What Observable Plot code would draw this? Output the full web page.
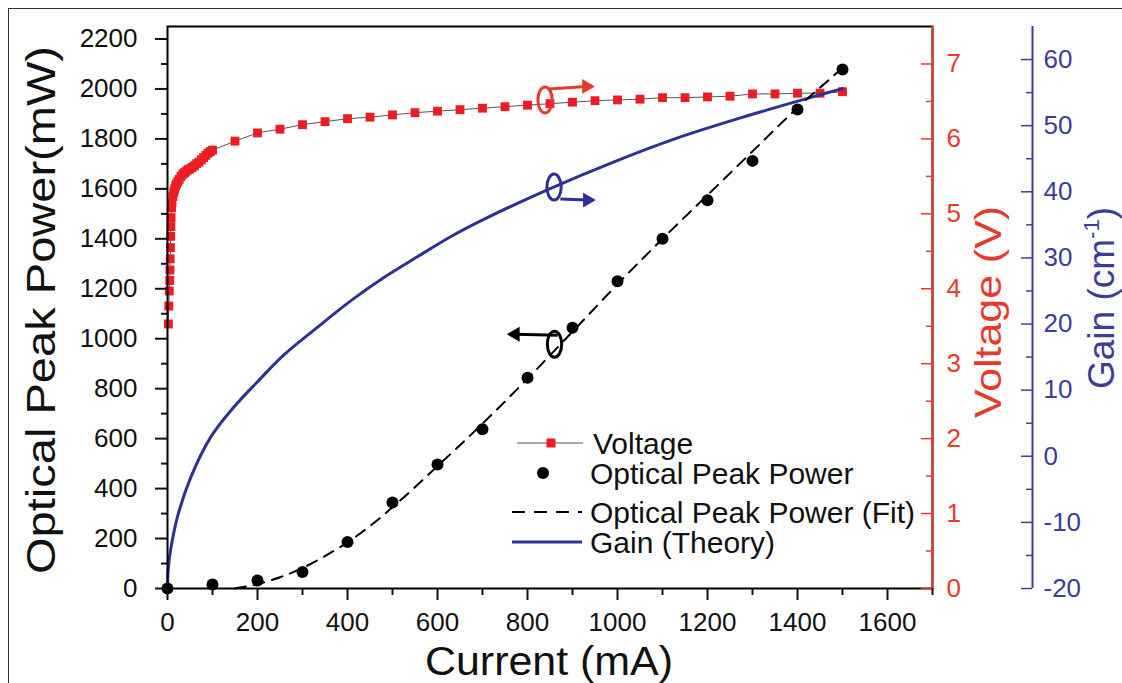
<!DOCTYPE html>
<html><head><meta charset="utf-8">
<script src="https://cdn.jsdelivr.net/npm/d3@7"></script>
<script src="https://cdn.jsdelivr.net/npm/@observablehq/plot@0.6"></script>
<style>
body{margin:0;background:#fff;overflow:hidden;font-family:"Liberation Sans",Arial,sans-serif;}
#wrap{position:relative;width:1122px;height:683px;overflow:hidden;}
#border{position:absolute;left:8px;top:8px;width:1300px;height:900px;border:1.5px solid #333;pointer-events:none;}
</style></head><body><div id="wrap"></div>
<script>
// ---- data ----
const voltageCurrent = [2,3,4,5,5.5,6,6.5,7,7.5,8,9,10,12,14,16,18,20,23,26,30,34,38,42,46,50,55,60,65,70,75,80,85,90,95,100,
  150,200,250,300,350,400,450,500,550,600,650,700,750,800,850,900,950,1000,1050,1100,1150,1200,1250,1300,1350,1400,1450,1500];
const voltage = [3.53,3.77,3.97,4.11,4.25,4.40,4.55,4.70,4.83,4.95,5.08,5.15,5.23,5.29,5.33,5.37,5.40,5.43,5.46,5.50,5.53,5.55,5.57,5.59,5.60,5.62,5.64,5.67,5.69,5.72,5.75,5.78,5.81,5.83,5.85,
  5.97,6.08,6.13,6.19,6.23,6.27,6.29,6.32,6.35,6.37,6.39,6.41,6.43,6.45,6.47,6.49,6.51,6.52,6.53,6.55,6.55,6.56,6.57,6.60,6.60,6.61,6.61,6.63];

const powerCurrent = [0,100,200,300,400,500,600,700,800,900,1000,1100,1200,1300,1400,1500];
const power = [0,16,32,66,186,344,496,638,844,1044,1230,1400,1554,1712,1918,2078];

const fitCurrent = [150,200,250,300,350,400,450,500,600,700,800,900,1000,1100,1200,1300,1400,1500,1512];
const fitPower = [0,18,45,82,130,185,250,325,490,660,840,1028,1218,1400,1575,1750,1925,2085,2105];

const gainCurrent = [0,1,3,7,22,51,96,147,199,258,333,407,480,556,629,696,844,991,1140,1289,1436,1500];
const gain = [-20,-17.7,-16.1,-14.1,-9.2,-3.3,2.9,7.4,11.2,15.3,19.5,23.5,27.0,30.2,33.2,35.6,40.3,44.5,48.3,51.5,54.4,55.6];

const xMajor = [0,200,400,600,800,1000,1200,1400,1600];
const xMinor = [100,300,500,700,900,1100,1300,1500,1700];
const powerMajor = [0,200,400,600,800,1000,1200,1400,1600,1800,2000,2200];
const powerMinor = [100,300,500,700,900,1100,1300,1500,1700,1900,2100];
const voltMajor = [0,1,2,3,4,5,6,7];
const voltMinor = [0.5,1.5,2.5,3.5,4.5,5.5,6.5];
const gainMajor = [-20,-10,0,10,20,30,40,50,60];
const gainMinor = [-15,-5,5,15,25,35,45,55];

const legendLabels = ["Voltage","Optical Peak Power","Optical Peak Power (Fit)","Gain (Theory)"];

// annotation markers (current, power-axis units)
const annotations = [
  {cx:839, cy:1956, x1:847, y1:2000, x2:931, y2:2010, dir:90, color:"red"},
  {cx:859, cy:1607, x1:873, y1:1559, x2:933, y2:1555, dir:90, color:"blue"},
  {cx:860, cy:978,  x1:867, y1:1014, x2:773, y2:1018, dir:-90, color:"black"}
];

// ---- scales & styling ----
const W = 1122, H = 683;
const mL = 167, mR = 190, mT = 26, mB = 95;
const innerW = W - mL - mR;
const xMax = 1700, yMax = 2250, vMax = 7.5, gMin = -20, gMax = 65;
const vk = yMax / vMax;
const gk = yMax / (gMax - gMin);
const RED = "#ed1c24", RED_AX = "#e8392d", BLUE = "#2e3192", BLUE_AX = "#3d3d98";
const colorOf = {red: RED_AX, blue: BLUE, black: "#000"};

const vData = voltageCurrent.map((c,i)=>({c, y: voltage[i]*vk}));
const pData = powerCurrent.map((c,i)=>({c, y: power[i]}));
const fData = fitCurrent.map((c,i)=>({c, y: fitPower[i]}));
const gData = gainCurrent.map((c,i)=>({c, y: (gain[i]-gMin)*gk}));
const ann = annotations.map(a=>({...a, col: colorOf[a.color]}));

const ellipse = {draw(ctx, size){
  const ry = Math.sqrt(size/Math.PI), rx = ry*0.55, k = 0.5523;
  ctx.moveTo(rx,0);
  ctx.bezierCurveTo(rx,k*ry,k*rx,ry,0,ry);
  ctx.bezierCurveTo(-k*rx,ry,-rx,k*ry,-rx,0);
  ctx.bezierCurveTo(-rx,-k*ry,-k*rx,-ry,0,-ry);
  ctx.bezierCurveTo(k*rx,-ry,rx,-k*ry,rx,0);
  ctx.closePath();
}};

const FS = 26;
const plot = Plot.plot({
  width: W, height: H,
  marginLeft: mL, marginRight: mR, marginTop: mT, marginBottom: mB,
  x: {domain: [0, xMax]},
  y: {domain: [0, yMax]},
  style: {fontFamily: "'Liberation Sans', Arial, sans-serif", background: "transparent", overflow: "visible", color: "#111"},
  marks: [
    // data
    Plot.line(vData, {x: "c", y: "y", stroke: "#555", strokeWidth: 1}),
    Plot.dot(vData, {x: "c", y: "y", symbol: "square", r: 5, fill: RED}),
    Plot.line(gData, {x: "c", y: "y", stroke: BLUE, strokeWidth: 3, curve: "catmull-rom"}),
    Plot.line(fData, {x: "c", y: "y", stroke: "#000", strokeWidth: 2, strokeDasharray: "11,8", curve: "monotone-x"}),
    Plot.dot(pData, {x: "c", y: "y", r: 6, fill: "#000"}),
    // frame & axes
    Plot.frame({stroke: "#000", strokeWidth: 2}),
    Plot.axisX({ticks: xMajor, tickSize: 12, tickPadding: 12, fontSize: FS, strokeWidth: 2, label: null, tickFormat: d => String(d)}),
    Plot.axisX({ticks: xMinor, tickSize: 7, tickFormat: () => "", strokeWidth: 2, label: null}),
    Plot.axisY({ticks: powerMajor, tickSize: 12, tickPadding: 18, fontSize: FS, strokeWidth: 2, label: null, tickFormat: d => String(d)}),
    Plot.axisY({ticks: powerMinor, tickSize: 6, tickFormat: () => "", strokeWidth: 2, label: null}),
    // voltage axis
    Plot.ruleX([xMax], {stroke: RED_AX, strokeWidth: 2}),
    Plot.axisY({anchor: "left", dx: innerW, ticks: voltMajor.map(v => v*vk), tickSize: 11, tickFormat: () => "", stroke: RED_AX, strokeWidth: 1.5, label: null}),
    Plot.axisY({anchor: "left", dx: innerW, ticks: voltMinor.map(v => v*vk), tickSize: 6, tickFormat: () => "", stroke: RED_AX, strokeWidth: 1.5, label: null}),
    Plot.axisY({anchor: "right", ticks: voltMajor.map(v => v*vk), tickSize: 0, tickPadding: 14, fontSize: FS, fill: RED_AX, label: null, tickFormat: d => String(Math.round(d/vk))}),
    // gain axis
    Plot.ruleX([xMax], {dx: 100, stroke: BLUE_AX, strokeWidth: 2}),
    Plot.axisY({anchor: "left", dx: innerW + 100, ticks: gainMajor.map(g => (g-gMin)*gk), tickSize: 11, tickFormat: () => "", stroke: BLUE_AX, strokeWidth: 1.5, label: null}),
    Plot.axisY({anchor: "left", dx: innerW + 100, ticks: gainMinor.map(g => (g-gMin)*gk), tickSize: 6, tickFormat: () => "", stroke: BLUE_AX, strokeWidth: 1.5, label: null}),
    Plot.axisY({anchor: "right", dx: 100, ticks: gainMajor.map(g => (g-gMin)*gk), tickSize: 0, tickPadding: 11, fontSize: FS, fill: BLUE_AX, label: null, tickFormat: d => String(Math.round(d/gk + gMin))}),
    // annotations
    Plot.dot(ann, {x: "cx", y: "cy", symbol: ellipse, r: 13, fill: "none", stroke: "col", strokeWidth: 3}),
    Plot.link(ann, {x1: "x1", y1: "y1", x2: "x2", y2: "y2", stroke: "col", strokeWidth: 3}),
    Plot.dot(ann, {x: "x2", y: "y2", symbol: "triangle", r: 5.5, fill: "col", rotate: "dir"})
  ]
});

document.getElementById("wrap").appendChild(plot);
const border = document.createElement("div"); border.id = "border";
document.getElementById("wrap").appendChild(border);

// ---- titles & legend ----
const svg = d3.select(plot);
const ff = "'Liberation Sans', Arial, sans-serif";
function title(txt, x, y, size, len, color, rot) {
  const t = svg.append("text").attr("font-family", ff).attr("font-size", size).attr("fill", color)
    .attr("text-anchor", "middle").attr("transform", `translate(${x},${y})` + (rot ? ` rotate(${rot})` : ""));
  if (len) t.attr("textLength", len).attr("lengthAdjust", "spacingAndGlyphs");
  t.text(txt);
  return t;
}
title("Optical Peak Power(mW)", 55, 310, 40, 528, "#111", -90);
title("Current (mA)", 549, 675, 40, 248, "#111", 0);
title("Voltage (V)", 1001, 312, 36, 212, RED_AX, -90);
const gt = svg.append("text").attr("font-family", ff).attr("font-size", 37).attr("fill", BLUE_AX)
  .attr("text-anchor", "middle").attr("transform", "translate(1114,298) rotate(-90)");
gt.append("tspan").text("Gain (cm");
gt.append("tspan").attr("font-size", 22).attr("dy", -15).text("-1");
gt.append("tspan").attr("dy", 15).text(")");

const lg = svg.append("g").attr("font-family", ff).attr("font-size", 30).attr("fill", "#111").attr("text-anchor", "start");
const rows = [443, 473, 512, 542];
// Voltage
lg.append("line").attr("x1", 517).attr("x2", 583).attr("y1", rows[0]).attr("y2", rows[0]).attr("stroke", "#555").attr("stroke-width", 1);
lg.append("rect").attr("x", 546.5).attr("y", rows[0]-4.5).attr("width", 9).attr("height", 9).attr("fill", RED);
// Optical points
lg.append("circle").attr("cx", 543).attr("cy", rows[1]).attr("r", 6).attr("fill", "#000");
// Fit
lg.append("line").attr("x1", 512).attr("x2", 582).attr("y1", rows[2]).attr("y2", rows[2]).attr("stroke", "#000").attr("stroke-width", 2).attr("stroke-dasharray", "13,9");
// Gain
lg.append("line").attr("x1", 512).attr("x2", 582).attr("y1", rows[3]).attr("y2", rows[3]).attr("stroke", BLUE).attr("stroke-width", 3);
const lx = [593, 590, 590, 590];
legendLabels.forEach((l, i) => {
  lg.append("text").attr("x", lx[i]).attr("y", rows[i]).attr("dy", "0.36em").attr("text-anchor", "start").text(l);
});
</script></body></html>
